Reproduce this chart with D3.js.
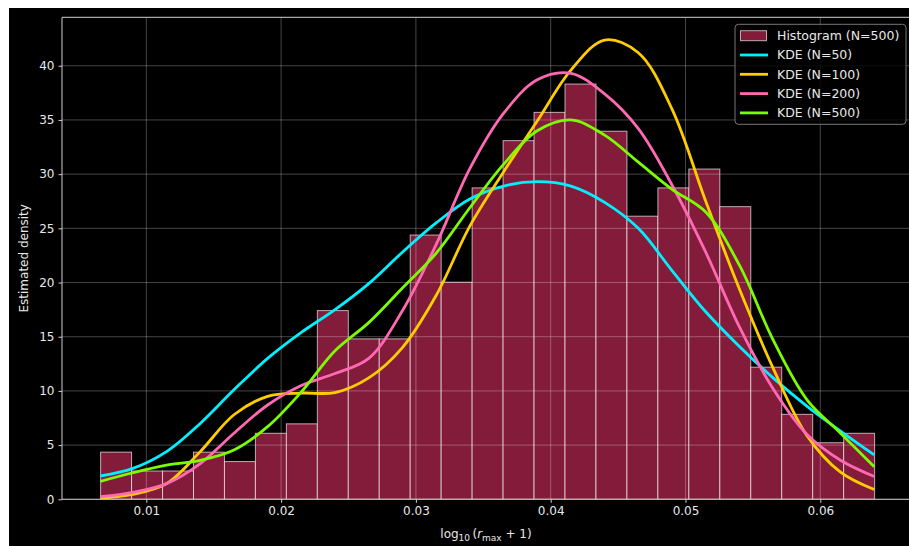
<!DOCTYPE html>
<html>
<head>
<meta charset="utf-8">
<script src="https://cdn.jsdelivr.net/npm/d3@7"></script>
<style>
  html, body { margin: 0; padding: 0; background: #ffffff; }
  svg { display: block; }
  text { font-family: "DejaVu Sans", sans-serif; }
</style>
</head>
<body>
<svg id="chart" width="909" height="546"></svg>
<script>
// ---------- data ----------
const histMin = 0.00661, histMax = 0.06403;
const histDensity = [4.35, 2.61, 2.61, 4.35, 3.48, 6.09, 6.96, 17.41, 14.80, 14.80,
  24.38, 20.03, 28.73, 33.09, 35.70, 38.31, 33.96, 26.12, 28.73, 30.47,
  27.00, 12.19, 7.84, 5.22, 6.09];

const kdeX = [0.0066, 0.0090, 0.0115, 0.0140, 0.0165, 0.0190, 0.0215, 0.0240, 0.0265, 0.0290,
  0.0315, 0.0340, 0.0365, 0.0390, 0.0415, 0.0440, 0.0465, 0.0490, 0.0515, 0.0540,
  0.0565, 0.0590, 0.0615, 0.0640];
const kde50  = [2.15, 2.85, 4.4, 7.0, 10.1, 13.0, 15.4, 17.5, 19.9, 22.8, 25.5, 27.7, 28.9, 29.3, 28.9, 27.4, 25.0, 21.1, 17.3, 14.1, 11.2, 8.6, 6.3, 4.1];
const kde100 = [0.12, 0.45, 1.45, 4.4, 7.8, 9.5, 9.8, 9.85, 11.2, 14.0, 18.8, 25.2, 30.2, 34.9, 39.6, 42.37, 41.2, 36.0, 27.5, 19.4, 12.1, 5.9, 2.5, 0.9];
const kde200 = [0.24, 0.65, 1.45, 3.3, 6.1, 8.7, 10.5, 11.6, 13.0, 17.4, 23.5, 30.5, 35.6, 38.7, 39.3, 37.4, 34.2, 29.0, 22.8, 15.9, 10.2, 6.0, 3.6, 2.1];
const kde500 = [1.66, 2.45, 3.15, 3.6, 4.55, 6.7, 9.9, 13.7, 16.3, 19.5, 22.7, 26.9, 30.9, 34.0, 35.0, 33.6, 31.1, 28.6, 26.5, 21.6, 14.7, 9.2, 6.1, 3.0];

const xTicks = [0.01, 0.02, 0.03, 0.04, 0.05, 0.06];
const yTicks = [0, 5, 10, 15, 20, 25, 30, 35, 40];
const seriesNames = ["KDE (N=50)", "KDE (N=100)", "KDE (N=200)", "KDE (N=500)"];
const histName = "Histogram (N=500)";

// ---------- styles ----------
const seriesColors = ["#00f0ff", "#ffcc00", "#ff69b4", "#7cfc00"];
const barFill = "#831c3b";
const textColor = "#e8e8e8";

const svg = d3.select("#chart");
const W = 909, H = 546;
const pL = 62, pT = 17.3, pB = 499.3, pR = 913.3;

// figure background (cropped figure: white strip top/left)
svg.append("rect").attr("x", 9).attr("y", 8).attr("width", W - 9).attr("height", H - 8).attr("fill", "#000");

const x = d3.scaleLinear().domain([0.003745, 0.0669]).range([pL, pR]);
const y = d3.scaleLinear().domain([0, 44.47]).range([pB, pT]);

svg.append("defs").append("clipPath").attr("id", "plotclip")
  .append("rect").attr("x", pL).attr("y", pT).attr("width", pR - pL).attr("height", pB - pT);

const plot = svg.append("g").attr("clip-path", "url(#plotclip)");

// bars
const binW = (histMax - histMin) / histDensity.length;
const bins = histDensity.map((d, i) => ({ x0: histMin + i * binW, x1: histMin + (i + 1) * binW, v: d }));
plot.append("g").selectAll("rect").data(bins).join("rect")
  .attr("x", d => x(d.x0))
  .attr("y", d => y(d.v))
  .attr("width", d => x(d.x1) - x(d.x0))
  .attr("height", d => y(0) - y(d.v))
  .attr("fill", barFill)
  .attr("stroke", "rgba(255,255,255,0.65)")
  .attr("stroke-width", 1);

// grid (above bars, below lines)
const grid = plot.append("g").attr("stroke", "rgba(255,255,255,0.3)").attr("stroke-width", 0.9);
grid.selectAll("line.v").data(xTicks).join("line").attr("class", "v")
  .attr("x1", d => x(d)).attr("x2", d => x(d)).attr("y1", pT).attr("y2", pB);
grid.selectAll("line.h").data(yTicks).join("line").attr("class", "h")
  .attr("x1", pL).attr("x2", pR).attr("y1", d => y(d)).attr("y2", d => y(d));

// KDE lines
const line = d3.line().x(d => x(d[0])).y(d => y(d[1])).curve(d3.curveCatmullRom.alpha(0.5));
[kde50, kde100, kde200, kde500].forEach((s, i) => {
  plot.append("path")
    .datum(kdeX.map((xv, j) => [xv, s[j]]))
    .attr("d", line)
    .attr("fill", "none")
    .attr("stroke", seriesColors[i])
    .attr("stroke-width", 2.8)
    .attr("stroke-linejoin", "round")
    .attr("stroke-linecap", "butt");
});

// spines
svg.append("line").attr("x1", pL).attr("x2", pL).attr("y1", pT).attr("y2", pB).attr("stroke", "#d0d0d0").attr("stroke-width", 1);
svg.append("line").attr("x1", pL).attr("x2", W).attr("y1", pT).attr("y2", pT).attr("stroke", "#d0d0d0").attr("stroke-width", 1);
svg.append("line").attr("x1", pL).attr("x2", W).attr("y1", pB).attr("y2", pB).attr("stroke", "#d0d0d0").attr("stroke-width", 1);

// axes
const xAxis = d3.axisBottom(x).tickValues(xTicks).tickSize(3.5).tickPadding(4).tickFormat(d3.format(".2f"));
const yAxis = d3.axisLeft(y).tickValues(yTicks).tickSize(3.5).tickPadding(4).tickFormat(d3.format("d"));
const gx = svg.append("g").attr("transform", `translate(0,${pB})`).call(xAxis);
const gy = svg.append("g").attr("transform", `translate(${pL},0)`).call(yAxis);
[gx, gy].forEach(g => {
  g.select(".domain").remove();
  g.selectAll(".tick line").attr("stroke", "#d0d0d0");
  g.selectAll(".tick text").attr("fill", textColor).attr("font-size", 12).attr("font-family", "DejaVu Sans, sans-serif");
});

// axis labels
svg.append("text")
  .attr("transform", `translate(28,${(pT + pB) / 2}) rotate(-90)`)
  .attr("text-anchor", "middle")
  .attr("fill", textColor).attr("font-size", 12)
  .text("Estimated density");

const xl = svg.append("text")
  .attr("x", 486).attr("y", 538)
  .attr("text-anchor", "middle")
  .attr("fill", textColor).attr("font-size", 12);
xl.append("tspan").text("log");
xl.append("tspan").attr("font-size", 9).attr("dy", 3).text("10");
xl.append("tspan").attr("dy", -3).text("\u2009(");
xl.append("tspan").attr("font-style", "italic").text("r");
xl.append("tspan").attr("font-size", 9).attr("dy", 3).text("max");
xl.append("tspan").attr("dy", -3).text(" + 1)");

// legend
const lg = svg.append("g");
lg.append("rect").attr("x", 735).attr("y", 24.3).attr("width", 171).attr("height", 100).attr("rx", 3.5)
  .attr("fill", "rgba(0,0,0,0.8)").attr("stroke", "#777").attr("stroke-width", 1);
const rowY = [35.7, 55.0, 74.3, 93.6, 112.9];
lg.append("rect").attr("x", 740.5).attr("y", rowY[0] - 5).attr("width", 26).attr("height", 10)
  .attr("fill", barFill).attr("stroke", "rgba(255,255,255,0.65)").attr("stroke-width", 1);
lg.append("text").attr("x", 777).attr("y", rowY[0]).attr("dy", "0.35em").attr("fill", textColor).attr("font-size", 12.5).text(histName);
seriesNames.forEach((n, i) => {
  lg.append("line").attr("x1", 740).attr("x2", 768).attr("y1", rowY[i + 1]).attr("y2", rowY[i + 1])
    .attr("stroke", seriesColors[i]).attr("stroke-width", 2.8);
  lg.append("text").attr("x", 777).attr("y", rowY[i + 1]).attr("dy", "0.35em").attr("fill", textColor).attr("font-size", 12.5).text(n);
});
</script>
</body>
</html>
